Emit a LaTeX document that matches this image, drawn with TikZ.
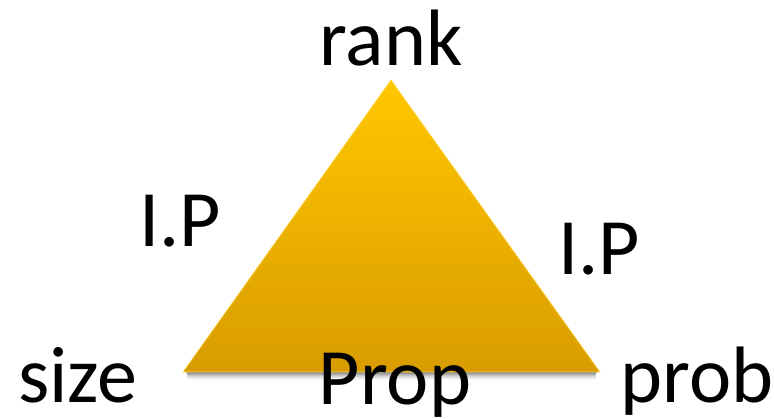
\documentclass[tikz,border=0pt]{standalone}
\usepackage{fontspec}
\setmainfont{Carlito}
\usetikzlibrary{shadings}
\definecolor{triTop}{HTML}{FFC700}
\definecolor{triBot}{HTML}{D99C00}
\tikzset{
  lbl/.style={anchor=base, inner sep=0pt, font=\fontsize{80}{96}\selectfont, text=black},
}
\begin{document}
\begin{tikzpicture}[x=1pt,y=-1pt]
\useasboundingbox (0,0) rectangle (774,419);
% shadow
\foreach \o/\op in {1/0.14,2/0.12,3/0.10,4/0.08,5/0.06,6/0.05,7/0.04,8/0.03}{
  \fill[black,opacity=\op] (186+\o*0.2,372-2) -- (597-\o*0.2,372-2) -- (597-\o*0.2,372+\o) -- (186+\o*0.2,372+\o) -- cycle;
}
% triangle
\coordinate (apex) at (391,80);
\coordinate (bl) at (183,372);
\coordinate (br) at (600,372);
\shade[top color=triTop, bottom color=triBot, draw=triTop!70!white, line width=0.6pt] (apex) -- (br) -- (bl) -- cycle;
% labels
\node[lbl] (rank) at (391,66) {rank};
\node[lbl] (ipl) at (180,247) {I.P};
\node[lbl] (ipr) at (599,275) {I.P};
\node[lbl] (size) at (78,403) {size};
\node[lbl] (prop) at (395,405) {Prop};
\node[lbl] (prob) at (697,403) {prob};
\end{tikzpicture}
\end{document}
